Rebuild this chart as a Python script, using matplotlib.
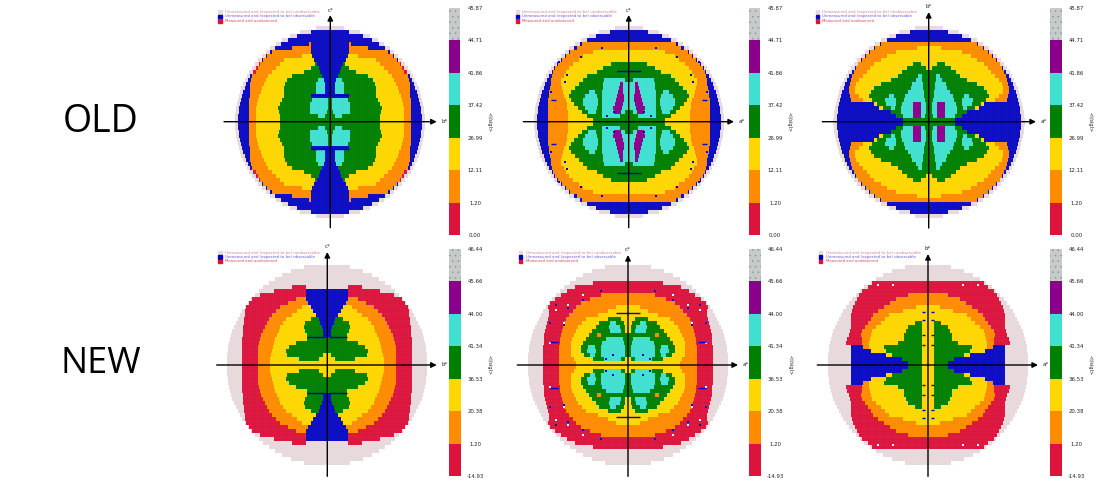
import re
import numpy as np
import matplotlib
matplotlib.use('Agg')
import matplotlib.pyplot as plt
from matplotlib.colors import ListedColormap

W, H = 1106, 484

# one upper-right quadrant per map, rows go outward from the centre (4 px each)
# letter + number = class up to that many px from the centre
old_bc = ['g50y74o81b92w95', 'g5t12g50y74o81b92w95', 'g3t20g51y74o81b91w94', 'g2t20g52y74o81b91w94',
          'g2t20g50y73o81b90w93', 'g2t18g48y72o81b89w92', 'b19g46y71o80b88w91', 'b5t14g46y69o80b87w90',
          'b5t14g46y68o80b85w89', 'b5t14g45y66o80b84w87', 'b6t12g43y64o79b82w85', 'b8g38y62o78b80w83',
          'b10g26y58o74r77w81', 'b11g19y54o72r74w78', 'b13g15y50o70r71w75', 'b16y46o67b68w72',
          'b18y28o63b64w68', 'b19o58b60w64', 'b19o38b55w60', 'b19o21b49w54', 'b42w48', 'b33w40', 'b19w30', 'w14']
old_ac = ['g36y61o81b92w95', 'g9t27g42y61o81b92w95', 'g4t8p15t27g33t41g47y61o81b91w94',
          't7p16t27g32t44g51y62o81b91w94', 't6p14t27g31t46g55y62o81b90w93', 't5p13t27g31t46g58y63o81b89w92',
          't5p12t27g32t44g60y65o80b88w91', 't6p11t27g34t40g58y66o80b87w90', 't6p10t26g54y67o79b85w89',
          't6p9t26g50y68o78b84w87', 'g4t25g46y68o78b82w85', 'g42y65o77b80w83', 'g32y63o76b77w81',
          'g26y60o74b75w78', 'g18y56o71b72w75', 'y50o67b68w72', 'y46o63b64w68', 'y36o59b60w64',
          'o52b55w60', 'o47b49w54', 'b42w48', 'b33w40', 'b19w30', 'w14']
old_ab = ['g26b92w96', 'g4t8p16t26g33b92w95', 'g3t8p16t28g38b91w95', 'g3t8p16t28g34t38g46y50b91w94',
          'g3t8p16t27g33t43g52y55b90w93', 'g4t25g33t44g57y66o78b89w92', 'g5t24g35t40g60y70o79b88w91',
          'g5t21g58y74o80b87w90', 'g6t18g55y74o80b85w89', 'g6t17g48y73o79b84w87', 'g7t13g38y70o78b82w85',
          'g7t11g31y66o77b80w83', 'g27y62o75b77w81', 'y3g22y59o73b74w78', 'y8g16y55o71b71w75',
          'y48o67b68w72', 'y42o63b64w68', 'y33o59b60w64', 'y12o54b55w60', 'o48b49w54',
          'b42w48', 'b33w40', 'b19w30', 'w14']
new_bc = ['y57o69r85w100', 'y8g28y57o69r85w100', 'y4g40y56o69r85w100', 'g41y55o69r85w99', 'g38y54o69r85w99',
          'g31y53o68r85w98', 'g20y52o67r85w97', 'b4g20y50o66r84w96', 'b4g22y48o64r84w95', 'b5g23y47o62r84w93',
          'b7g22y44o60r83w91', 'b8g16y41o58r83w89', 'b11y35o55r82w87', 'b14y30o51r82w85', 'b16y25o47r81w82',
          'b19o39r78w79', 'b21o31r75w76', 'b21r67w72', 'b21r53w68', 'w21r35w64', 'w58', 'w52', 'w45', 'w36', 'w23']
new_ac = ['y52o69r85w100', 'y3g7t24g35y54o69r85w100', 'g3t27g33t38g44y57o69r85w100', 'g3t27g32t41g47y57o69r85w99',
          'g3t27g33t40g47y57o69r85w99', 'g4t26g45y57o68r84w98', 'g5t22g42y56o68r84w97', 'g27o31g39y54o67r84w96',
          'y3g7t18g36y52o66r83w95', 'y3g8t19g32y50o65r82w93', 'y4g12t18g29y46o64r81w91', 'y7g20y42o62r80w89',
          'y30o59r79w87', 'y20o55r79w85', 'y12o52r80w82', 'o47r78w79', 'o38r73w76', 'o27r67w72', 'r61w68',
          'r53w64', 'r35w58', 'w52', 'w45', 'w36', 'w23']
new_ab = ['y6g20b77w100', 'y6g26b77w100', 'y6g36y42b77w100', 'y6g42y57b77w99', 'y6g44y59o65b77w99',
          'y6g30y59o66r82w98', 'y6g24y58o66r81w97', 'y6g24y57o67r79w96', 'y6g22y56o66r78w95', 'y6g20y52o63r77w93',
          'y6g13y47o60r77w91', 'y43o57r77w89', 'y39o55r77w87', 'y25o50r76w85', 'y12o44r75w82', 'o38r73w79',
          'o32r71w76', 'o20r69w72', 'r66w68', 'r60w64', 'r56w58', 'w52', 'w45', 'w36', 'w23']

# thin blue reflection bars and specks, quadrant offsets
old_bc_bars = [(0, 19, 27)]
old_ac_bars = [(0, 12, 51), (21, 21, 67), (21, 21, 77), (73, 78, 22)]
old_ab_bars = []
new_bc_bars = [(2, 20, 28)]
new_ac_bars = [(0, 12, 52), (22, 22, 70), (22, 22, 78), (70, 78, 23)]
new_ab_bars = [(3, 6, 20), (3, 6, 30), (3, 6, 45), (3, 6, 53)]
old_ac_dots = ([27, 48, 62, 64, 70, 78, 15, 22], [74, 65, 47, 40, 60, 30, 10, 6])
new_ac_dots = ([27, 45, 60, 64, 72, 78, 15, 22], [74, 65, 57, 40, 60, 42, 10, 6])
new_ac_white = ([60, 45, 64, 72, 78], [60, 70, 42, 55, 22])
new_ab_white = ([50, 35, 35], [80, 80, 80])

class_letters = 'wbroygtp'
class_colors = ['#e8d9dd', '#0b0bc4', '#dc143c', '#ff8c00', '#ffd700', '#008000', '#40e0d0', '#8b008b']
scale_colors = ['#dc143c', '#ff8c00', '#ffd700', '#008000', '#40e0d0', '#8b008b', '#c9c9c9']
old_scale = ['0.00', '1.20', '12.11', '26.99', '37.42', '41.86', '44.71', '45.87']
new_scale = ['-14.93', '1.20', '20.38', '36.53', '41.34', '44.00', '45.66', '46.44']
legend_texts = ['Unmeasured and (expected to be) unobservable',
                'Unmeasured and (expected to be) observable',
                'Measured and unobserved']
legend_colors = ['#e07a96', '#5a5ae0', '#e04060']
legend_marks = ['#e8d9dd', '#0000cd', '#dc143c']


def to_grid(rows, size):
    grid = np.full((len(rows), size), -1)
    for r, row in enumerate(rows):
        start = 0
        for letter, end in re.findall(r'([a-z])(\d+)', row):
            grid[r, start:int(end)] = class_letters.index(letter)
            start = int(end)
    return grid


def rect(x0, y0, x1, y1):
    return [x0 / W, 1 - y1 / H, (x1 - x0) / W, (y1 - y0) / H]


plt.rcParams['font.family'] = 'DejaVu Sans'
plt.rcParams['hatch.linewidth'] = 0.3
fig = plt.figure(figsize=(W / 100, H / 100), dpi=100)

panels = [
    (old_bc, 330.3, 121.7, 224, 436.7, 15, 227.7, 'b*', 'c*', old_scale, 449, 460.3, 8, 235, 220, 225, old_bc_bars, None, None),
    (old_ac, 628.7, 121.7, 523.3, 734, 15, 227.7, 'a*', 'c*', old_scale, 749, 760.3, 8, 235, 517.3, 522.3, old_ac_bars, old_ac_dots, None),
    (old_ab, 928.7, 121.7, 822.3, 1036, 12, 228, 'a*', 'b*', old_scale, 1050, 1061.7, 8, 235, 817.3, 822.3, old_ab_bars, None, None),
    (new_bc, 327.3, 365, 216.7, 436.7, 252, 476.3, 'b*', 'c*', new_scale, 449, 460.7, 249, 476.3, 220, 225, new_bc_bars, None, None),
    (new_ac, 628, 365, 517.3, 738, 255, 476.3, 'a*', 'c*', new_scale, 749.3, 761, 249, 476.3, 520.3, 526, new_ac_bars, new_ac_dots, new_ac_white),
    (new_ab, 928, 365, 817.3, 1038, 254, 476.3, 'a*', 'b*', new_scale, 1050, 1061.7, 249, 476.3, 820.7, 826, new_ab_bars, None, new_ab_white),
]

cmap = ListedColormap(class_colors)
for rows, cx, cy, xl, xr, yt, yb, xname, yname, scale, c0, c1, c_top, c_bot, mark_x, text_x, bars, dots, whites in panels:
    size = 101
    grid = to_grid(rows, size)
    top = np.hstack([np.fliplr(grid), grid])
    full = np.ma.masked_less(np.vstack([np.flipud(top), top]), 0)
    xe = np.arange(-size, size + 1)
    ye = np.arange(-len(rows), len(rows) + 1) * 4

    ax = fig.add_axes(rect(cx - 115, cy - 115, cx + 115, cy + 115))
    ax.set_xlim(-115, 115)
    ax.set_ylim(-115, 115)
    ax.axis('off')
    ax.pcolormesh(xe, ye, full, cmap=cmap, vmin=-0.5, vmax=7.5, shading='flat', rasterized=True)

    # faint cell lattice of the map
    radius = 95 if cy < 200 else 100
    lattice = np.arange(-radius, radius + 1, 2.67)
    half = np.sqrt(np.clip(radius ** 2 - lattice ** 2, 0, None))
    ax.vlines(lattice, -half, half, color='white', lw=0.3, alpha=0.08)
    ax.hlines(lattice, -half, half, color='white', lw=0.3, alpha=0.08)

    for sx in (-1, 1):
        for sy in (-1, 1):
            for x0, x1, y in bars:
                ax.plot([sx * x0, sx * x1], [sy * y, sy * y], color='#0000cd', lw=1, solid_capstyle='butt')
            if dots:
                ax.scatter(sx * np.array(dots[0]), sy * np.array(dots[1]), s=3, marker='s', color='#0000cd', lw=0)
            if whites:
                ax.scatter(sx * np.array(whites[0]), sy * np.array(whites[1]), s=3, marker='s', color='white', lw=0)

    ax.annotate('', xy=(xr - cx, 0), xytext=(xl - cx, 0), annotation_clip=False,
                arrowprops=dict(arrowstyle='-|>', color='black', lw=1, shrinkA=0, shrinkB=0, mutation_scale=8))
    ax.annotate('', xy=(0, cy - yt), xytext=(0, cy - yb), annotation_clip=False,
                arrowprops=dict(arrowstyle='-|>', color='black', lw=1, shrinkA=0, shrinkB=0, mutation_scale=8))
    fig.text((xr + 5) / W, 1 - cy / H, xname, fontsize=4, ha='left', va='center', color='#222222')
    fig.text(cx / W, 1 - (yt - 5) / H, yname, fontsize=4, ha='center', va='center', color='#222222')

    # legend
    base = cy - 109.7 if cy < 200 else cy - 112.3
    for k, (txt, tc, mc) in enumerate(zip(legend_texts, legend_colors, legend_marks)):
        y = base + k * 4.4
        fig.text(text_x / W, 1 - y / H, txt, fontsize=2.75, color=tc, ha='left', va='center')
        fig.patches.append(plt.Rectangle((mark_x / W - 1.7 / W, 1 - y / H - 1.7 / H), 3.4 / W, 3.4 / H, color=mc,
                                         transform=fig.transFigure, figure=fig))

    # colour scale
    cax = fig.add_axes(rect(c0, c_top, c1, c_bot))
    for i, col in enumerate(scale_colors):
        if i == 6:
            cax.bar(0.5, 1, width=1, bottom=i, color=col, hatch='...', edgecolor='#5f9f9f', lw=0)
        else:
            cax.bar(0.5, 1, width=1, bottom=i, color=col, lw=0)
    cax.set_xlim(0, 1)
    cax.set_ylim(0, 7)
    cax.set_xticks([])
    cax.set_yticks(range(8), scale)
    cax.yaxis.tick_right()
    cax.tick_params(axis='y', length=0, pad=10.6, labelsize=3.9, labelcolor='#222222')
    for lab in cax.get_yticklabels():
        lab.set_ha('center')
    for s in cax.spines.values():
        s.set_visible(False)
    fig.text((c1 + 28.5) / W, 1 - cy / H, '<I/sigI>', fontsize=3.6, rotation=270, ha='center', va='center', color='#222222')

fig.text(101 / W, 1 - 122 / H, 'OLD', fontsize=27, family='Open Sans', ha='center', va='center', color='black')
fig.text(101 / W, 1 - 364 / H, 'NEW', fontsize=26, family='Open Sans', ha='center', va='center', color='black')

fig.savefig('out.png', dpi=100)
